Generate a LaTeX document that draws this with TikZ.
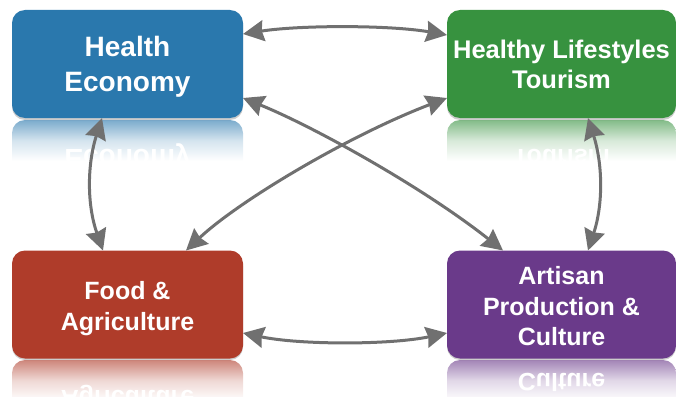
\documentclass[tikz,border=0pt]{standalone}
\usepackage{fontspec}
\setmainfont{Liberation Sans}
\usetikzlibrary{arrows.meta,calc}
\definecolor{cblue}{HTML}{2A78AD}
\definecolor{cgreen}{HTML}{37923F}
\definecolor{cred}{HTML}{AF3C2A}
\definecolor{cpurple}{HTML}{6A3A8A}
\definecolor{cline}{HTML}{707070}
\tikzset{
  card/.style={rounded corners=13pt,minimum width=231pt,minimum height=108pt,inner sep=0pt,outer sep=0pt,
    text=white,align=center},
  cardshadow/.style={fill=black,opacity=.2,rounded corners=13pt},
  link/.style={draw=cline,line width=3pt,line cap=round,
    {Stealth[length=21pt,width=21pt,inset=2pt]}-{Stealth[length=21pt,width=21pt,inset=2pt]}},
  mirror/.style={yscale=-1,transform shape,text=white,align=center,inner sep=0pt}
}
\newcommand{\refl}[6]{% x0, width, y0 (top), colour, text centre y, text
  \begin{scope}
    \clip (#1,#3) [rounded corners=13pt] -- (#1,#3+60) -- (#1+#2,#3+60) -- (#1+#2,#3) -- cycle;
    \shade[top color=#4!62!white,bottom color=white,middle color=#4!20!white] (#1,#3) rectangle (#1+#2,#3+41);
    \node[mirror] at (#1+#2/2,#5) {#6};
  \end{scope}
}
\begin{document}
\begin{tikzpicture}[x=1pt,y=-1pt]
\useasboundingbox (0,0) rectangle (676,396);
% reflections
\refl{12}{231}{120}{cblue}{156}{\fontsize{28}{34}\selectfont\bfseries Economy}
\refl{447}{229}{120}{cgreen}{158}{\fontsize{25}{30}\selectfont\bfseries Tourism}
\refl{12}{231}{360}{cred}{397}{\fontsize{25}{30}\selectfont\bfseries Agriculture}
\refl{447}{229}{360}{cpurple}{382}{\fontsize{25}{30}\selectfont\bfseries Culture}
% shadows
\fill[cardshadow] (12,12) rectangle (243,120);
\fill[cardshadow] (447,12) rectangle (676,120);
\fill[cardshadow] (12,253) rectangle (243,360);
\fill[cardshadow] (447,253) rectangle (676,360);
% cards
\node[card,fill=cblue,font=\fontsize{28}{34.5}\selectfont\bfseries] (he) at (127.5,64) {\rule{0pt}{26pt}Health\\Economy};
\node[card,fill=cgreen,minimum width=229pt,font=\fontsize{25.5}{30}\selectfont\bfseries] (hl) at (561.5,64) {\rule{0pt}{20pt}Healthy Lifestyles\\Tourism};
\node[card,fill=cred,font=\fontsize{25}{31}\selectfont\bfseries] (fa) at (127.5,304.5) {\rule{0pt}{27pt}Food \&\\Agriculture};
\node[card,fill=cpurple,minimum width=229pt,font=\fontsize{25}{30.5}\selectfont\bfseries] (ap) at (561.5,304.5) {\rule{0pt}{22pt}Artisan\\Production \&\\Culture};
% connectors
\draw[link] ($(he.east)+(0,-30)$) .. controls (300,25) and (390,25) .. ($(hl.west)+(0,-29)$);
\draw[link] ($(fa.east)+(0,28.5)$) .. controls (300,345) and (390,345) .. ($(ap.west)+(0,28.5)$);
\draw[link] ($(he.south)+(-25.5,0)$) .. controls (87,165) and (87,205) .. ($(fa.north)+(-24.5,0)$);
\draw[link] ($(hl.south)+(26.5,0)$) .. controls (603,165) and (603,205) .. ($(ap.north)+(26.5,0)$);
\draw[link] ($(he.east)+(0,34)$) .. controls (310,125) and (420,185) .. ($(ap.north)+(-58.5,0)$);
\draw[link] ($(fa.north)+(58.5,0)$) .. controls (240,200) and (350,135) .. ($(hl.west)+(0,34)$);
\end{tikzpicture}
\end{document}
